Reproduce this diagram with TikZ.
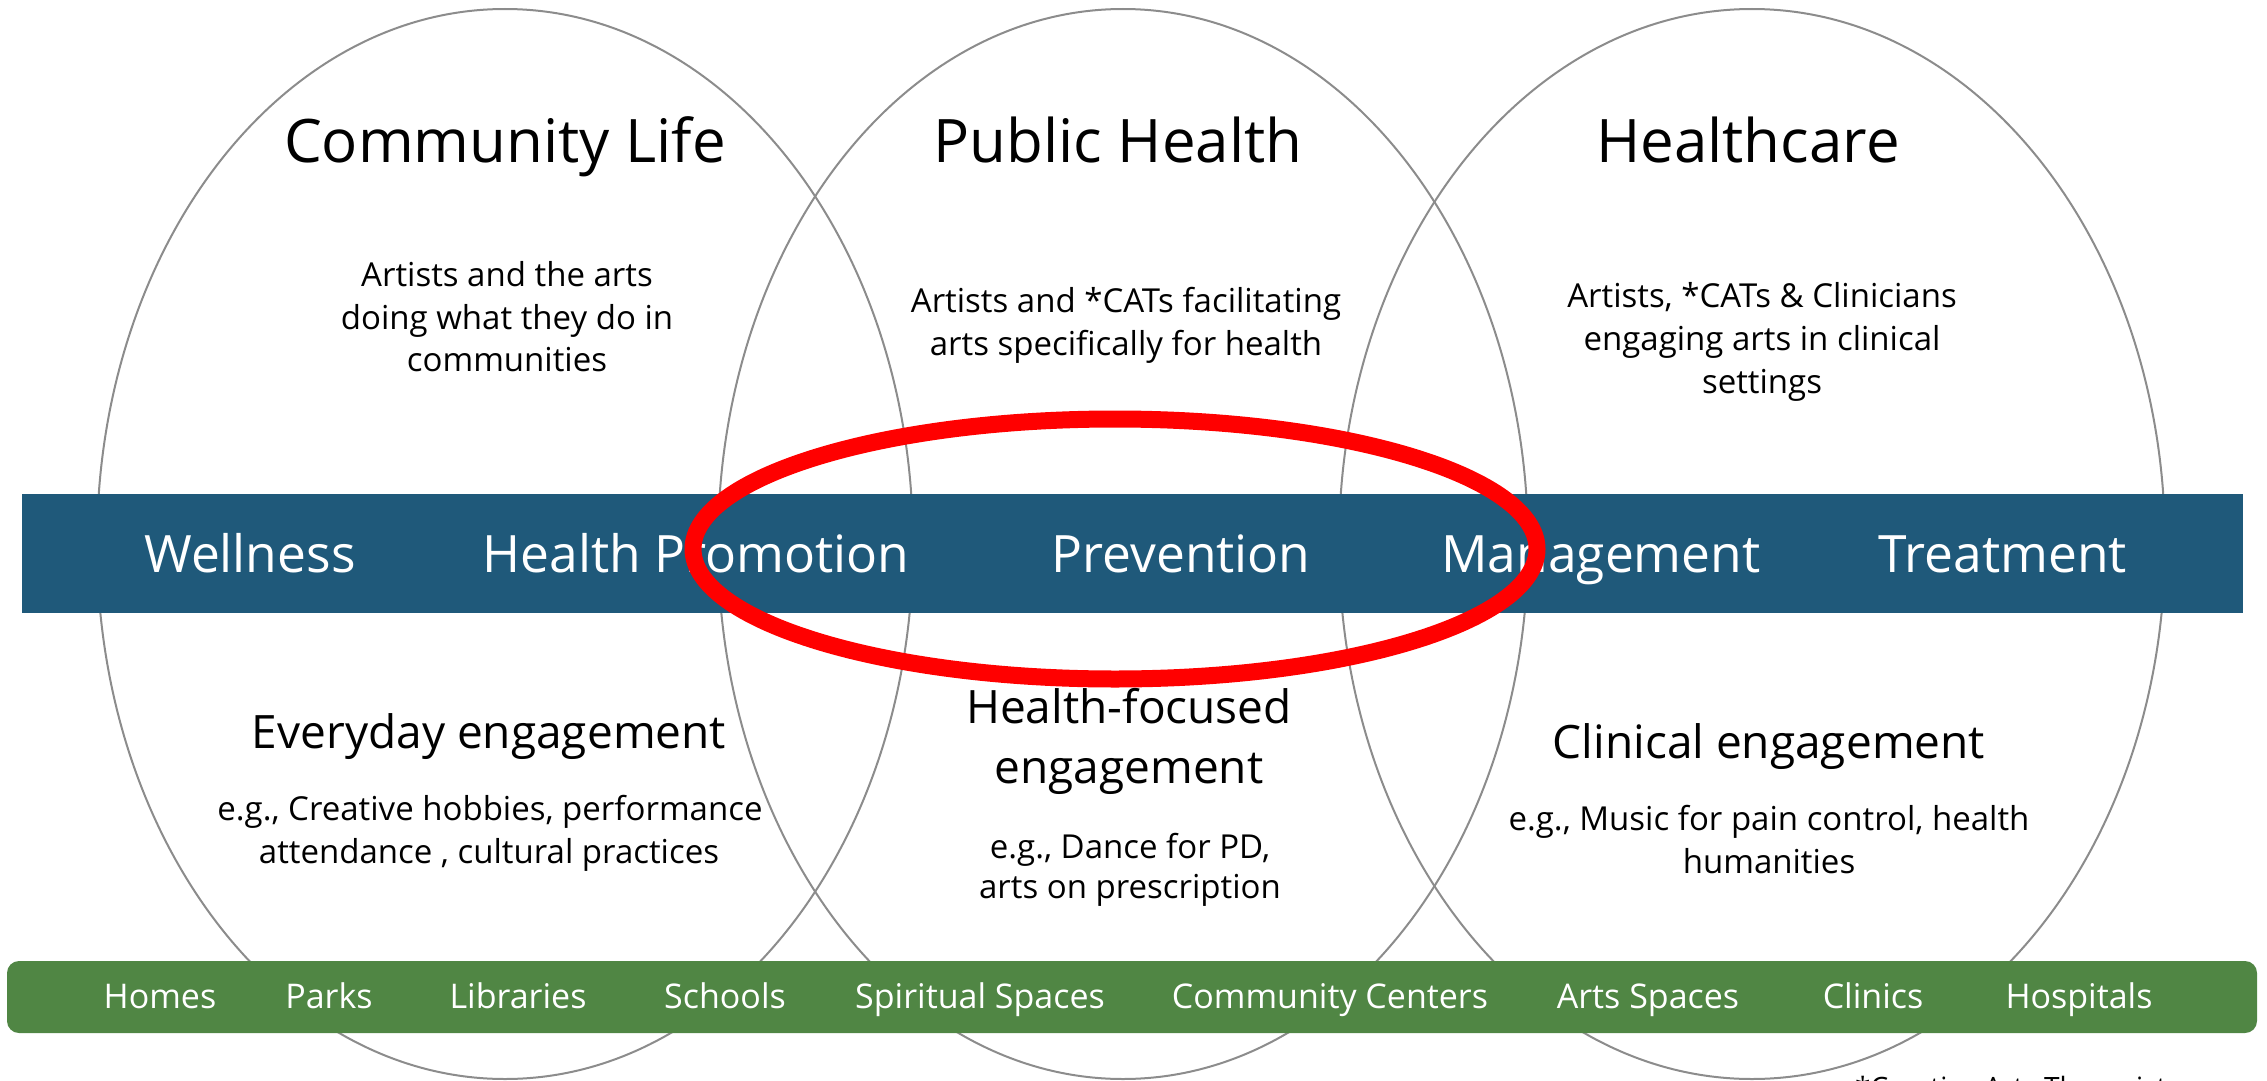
\documentclass[tikz,border=0pt]{standalone}
\usepackage{fontspec}
\setmainfont{Open Sans}
\definecolor{barblue}{RGB}{31,89,122}
\definecolor{bargreen}{RGB}{80,134,68}
\definecolor{ringgray}{RGB}{140,140,140}
\begin{document}
\begin{tikzpicture}[x=1pt,y=-1pt,
  ring/.style={draw=ringgray,line width=2pt},
  title/.style={font=\fontsize{60}{72}\selectfont,anchor=base,inner sep=0pt},
  body/.style={font=\fontsize{33}{43}\selectfont,anchor=base,inner sep=0pt},
  subhead/.style={font=\fontsize{46}{60}\selectfont,anchor=base,inner sep=0pt},
  stage/.style={font=\fontsize{51.5}{60}\selectfont,text=white,anchor=base,inner sep=0pt},
  place/.style={font=\fontsize{34}{40}\selectfont,text=white,anchor=base,inner sep=0pt},
  band/.style={inner sep=0pt,outer sep=0pt,anchor=north west}]
\useasboundingbox (0,0) rectangle (2267,1081);
% circles of the diagram
\draw[ring] (505,544) ellipse [x radius=408, y radius=535];
\draw[ring] (1123,544) ellipse [x radius=405, y radius=535];
\draw[ring] (1752,544) ellipse [x radius=413, y radius=535];
% bands
\node[band,fill=barblue,minimum width=2221pt,minimum height=119pt] (bar) at (22,494) {};
\node[band,fill=bargreen,rounded corners=12pt,minimum width=2250pt,minimum height=72pt] (places) at (7,961) {};
% titles
\node[title] (tcl) at (505,162) {Community Life};
\node[title] (tph) at (1118,162) {Public Health};
\node[title] (thc) at (1748,162) {Healthcare};
% upper descriptions
\node[body] (cl1) at (507,286) {Artists and the arts};
\node[body] (cl2) at (507,329) {doing what they do in};
\node[body] (cl3) at (507,371) {communities};
\node[body] (ph1) at (1126,312) {Artists and *CATs facilitating};
\node[body] (ph2) at (1126,355) {arts specifically for health};
\node[body] (hc1) at (1762,307) {Artists, *CATs \& Clinicians};
\node[body] (hc2) at (1762,350) {engaging arts in clinical};
\node[body] (hc3) at (1762,393) {settings};
% stages
\node[stage] (s1) at (250,572) {Wellness};
\node[stage] (s2) at (696,572) {Health Promotion};
\node[stage] (s3) at (1181,572) {Prevention};
\node[stage] (s4) at (1601,572) {Management};
\node[stage] (s5) at (2003,572) {Treatment};
% lower
\node[subhead] (ev) at (489,748) {Everyday engagement};
\node[body] (ev1) at (490,820) {e.g., Creative hobbies, performance};
\node[body] (ev2) at (489,863) {attendance , cultural practices};
\node[subhead] (hf1) at (1129,723) {Health-focused};
\node[subhead] (hf2) at (1129,783) {engagement};
\node[body] (hfa) at (1130,858) {e.g., Dance for PD,};
\node[body] (hfb) at (1130,898) {arts on prescription};
\node[subhead] (ce) at (1769,758) {Clinical engagement};
\node[body] (ce1) at (1769,830) {e.g., Music for pain control, health};
\node[body] (ce2) at (1769,873) {humanities};
% places
\node[place] (p1) at (160,1008) {Homes};
\node[place] (p2) at (329,1008) {Parks};
\node[place] (p3) at (518,1008) {Libraries};
\node[place] (p4) at (725,1008) {Schools};
\node[place] (p5) at (980,1008) {Spiritual Spaces};
\node[place] (p6) at (1330,1008) {Community Centers};
\node[place] (p7) at (1648,1008) {Arts Spaces};
\node[place] (p8) at (1873,1008) {Clinics};
\node[place] (p9) at (2079,1008) {Hospitals};
% red highlight
\draw[red,line width=17pt] (1115,549) ellipse [x radius=422, y radius=130];
% footnote (cut off by the page edge)
\node[font=\fontsize{28}{34}\selectfont,anchor=base west,inner sep=0pt] (foot) at (1855,1097) {*Creative Arts Therapists};
\end{tikzpicture}
\end{document}
